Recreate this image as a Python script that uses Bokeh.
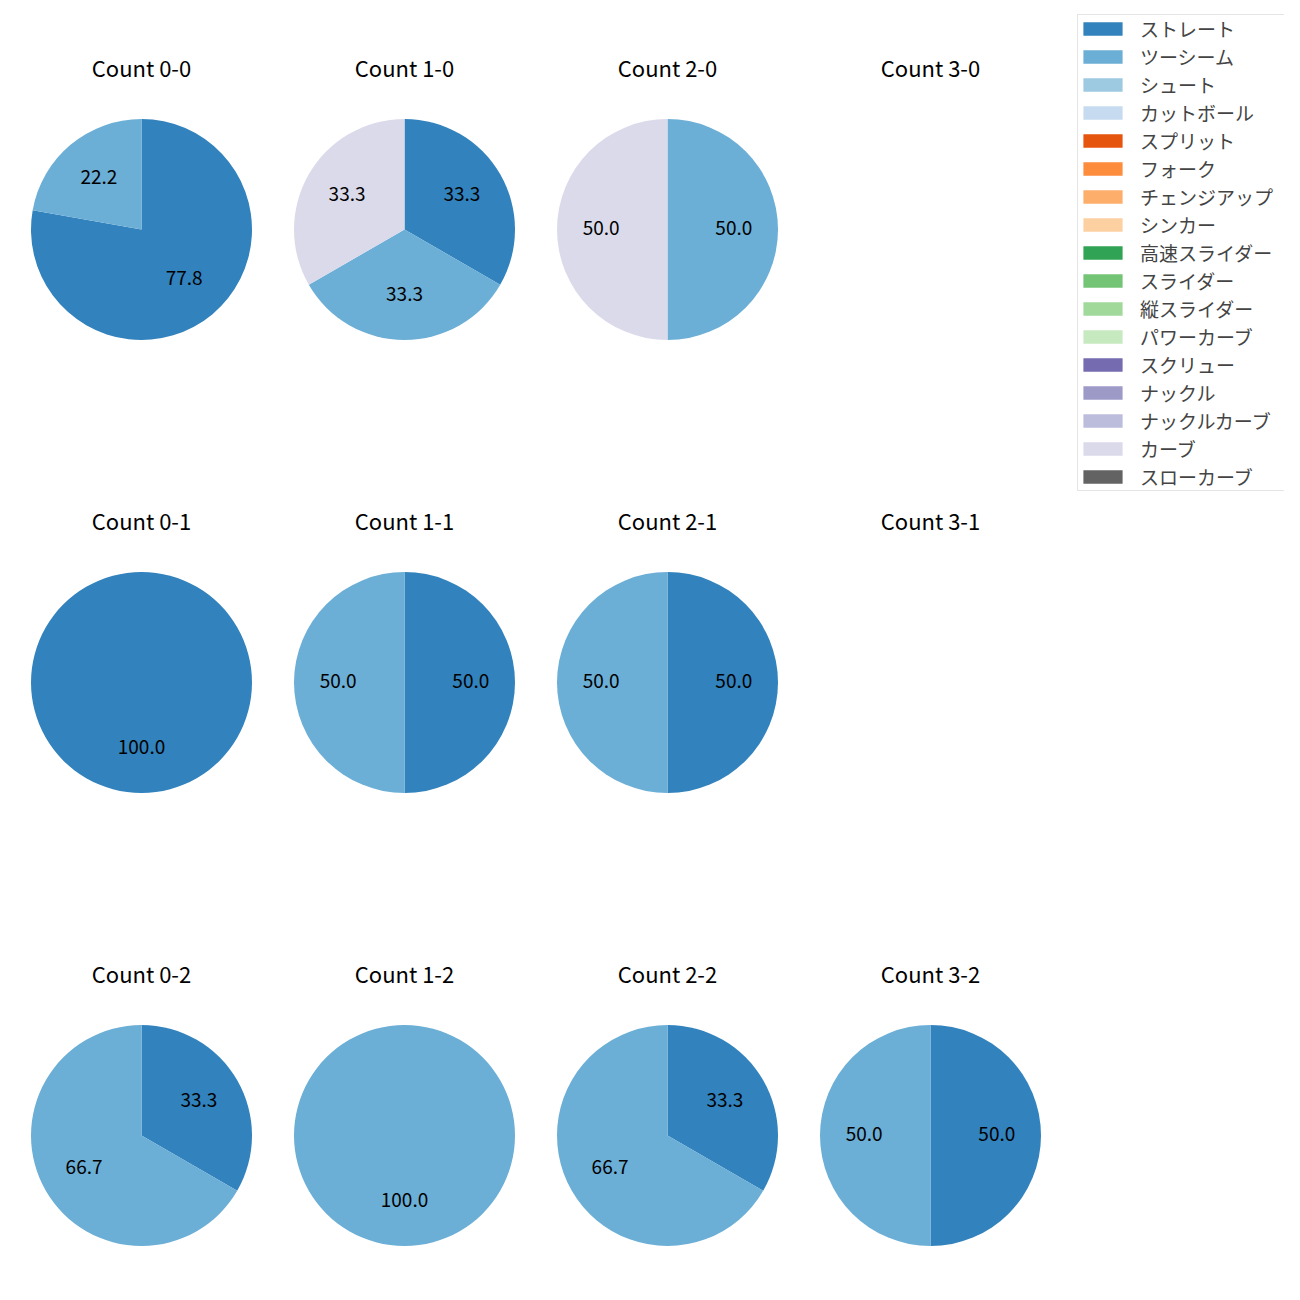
from math import pi, cos, sin
from bokeh.plotting import figure
from bokeh.models import ColumnDataSource, Range1d, Legend, LegendItem
from bokeh.core.properties import value
from bokeh.embed import file_html
from bokeh.resources import INLINE

# ---- data ----
pitch_types = ["ストレート", "ツーシーム", "シュート", "カットボール", "スプリット", "フォーク",
               "チェンジアップ", "シンカー", "高速スライダー", "スライダー", "縦スライダー",
               "パワーカーブ", "スクリュー", "ナックル", "ナックルカーブ", "カーブ", "スローカーブ"]
pitch_colors = ["#3182bd", "#6baed6", "#9ecae1", "#c6dbef", "#e6550d", "#fd8d3c",
                "#fdae6b", "#fdd0a2", "#31a354", "#74c476", "#a1d99b", "#c7e9c0",
                "#756bb1", "#9e9ac8", "#bcbddc", "#dadaeb", "#636363"]
count_labels = ["0-0", "1-0", "2-0", "3-0",
                "0-1", "1-1", "2-1", "3-1",
                "0-2", "1-2", "2-2", "3-2"]
straight = [7, 1, 0, 0, 1, 1, 1, 0, 1, 0, 1, 1]
two_seam = [2, 1, 1, 0, 0, 1, 1, 0, 2, 1, 2, 1]
curve = [0, 1, 1, 0, 0, 0, 0, 0, 0, 0, 0, 0]
series = {"ストレート": straight, "ツーシーム": two_seam, "カーブ": curve}

# ---- layout (pixel coordinates of the picture) ----
FONT = "Noto Sans CJK JP"
col_x = [141, 404, 667, 930]
row_y = [229, 682, 1135]
R = 110.5
H = 1300

p = figure(width=1284, height=1284, x_range=Range1d(0, 1284), y_range=Range1d(16, 1300),
           x_axis_location=None, y_axis_location=None, toolbar_location=None,
           output_backend="svg", min_border=0, outline_line_color=None)
p.xgrid.visible = False
p.ygrid.visible = False

wx, wy, ws, we, wc = [], [], [], [], []
lx, ly, lt = [], [], []
tx, ty, tt = [], [], []
for i, cl in enumerate(count_labels):
    cx = col_x[i % 4]
    cy = H - row_y[i // 4]
    tx.append(cx)
    ty.append(H - (row_y[i // 4] - 160))
    tt.append("Count " + cl)
    vals = [(pt, series[pt][i]) for pt in pitch_types if pt in series and series[pt][i] > 0]
    total = sum(v for _, v in vals)
    cum = 0.0
    for pt, v in vals:
        f0 = cum / total
        f1 = (cum + v) / total
        cum += v
        a_end = pi / 2 - f0 * 2 * pi
        a_start = a_end - min(f1 - f0, 1 - 1e-7) * 2 * pi
        wx.append(cx); wy.append(cy); ws.append(a_start); we.append(a_end)
        wc.append(pitch_colors[pitch_types.index(pt)])
        mid = pi / 2 - (f0 + f1) * pi
        lx.append(cx + 0.6 * R * cos(mid))
        ly.append(cy + 0.6 * R * sin(mid))
        lt.append("%.1f" % (100.0 * v / total))

wsrc = ColumnDataSource(dict(x=wx, y=wy, start=ws, end=we, color=wc))
p.wedge(x="x", y="y", radius=R, start_angle="start", end_angle="end", direction="anticlock",
        fill_color="color", line_color=None, source=wsrc)

p.text(x=lx, y=ly, text=lt, text_align="center", text_baseline="middle", y_offset=-2,
       text_font=value(FONT), text_font_size="19px", text_color="#000000")
p.text(x=tx, y=ty, text=tt, text_align="center", text_baseline="middle", y_offset=-3,
       text_font=value(FONT), text_font_size="22px", text_color="#000000")

items = []
for name, col in zip(pitch_types, pitch_colors):
    r = p.rect(x=[-1000], y=[-1000], width=1, height=1, fill_color=col, line_color=None)
    items.append(LegendItem(label=name, renderers=[r]))

legend = Legend(items=items, location=(1077, 793), margin=0, padding=0,
                glyph_width=49, glyph_height=17, label_height=20, spacing=1,
                label_standoff=13, label_width=144,
                label_text_font=FONT, label_text_font_size="19px",
                label_text_baseline="middle",
                border_line_color="#cccccc", border_line_width=1,
                background_fill_color="white", background_fill_alpha=1.0)
p.add_layout(legend)

open("out.html", "w").write(file_html(p, INLINE))
